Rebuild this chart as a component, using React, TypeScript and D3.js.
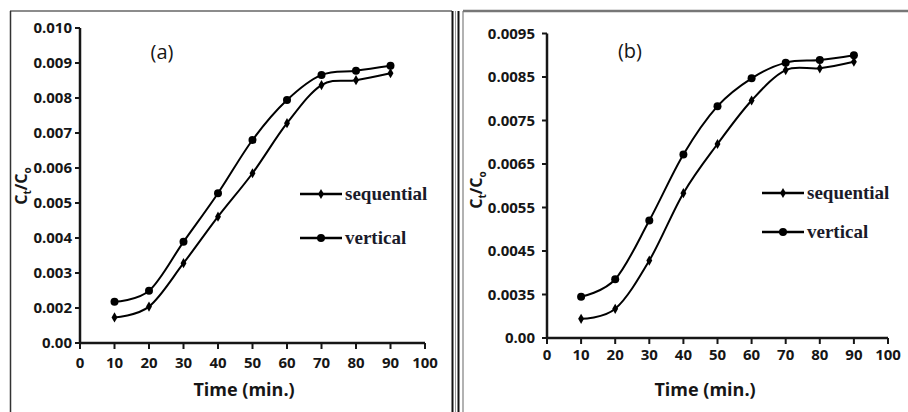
import * as d3 from 'd3';

// sampling times (min.)
const times = [10, 20, 30, 40, 50, 60, 70, 80, 90];
const xTicks = [0, 10, 20, 30, 40, 50, 60, 70, 80, 90, 100];

// panel (a)
const seqA = [0.00173, 0.00204, 0.00328, 0.00461, 0.00585, 0.00728, 0.00837, 0.00851, 0.00871];
const vertA = [0.00218, 0.00249, 0.00389, 0.00528, 0.0068, 0.00794, 0.00866, 0.00878, 0.00892];
const yTicksA = [0.001, 0.002, 0.003, 0.004, 0.005, 0.006, 0.007, 0.008, 0.009, 0.01];
const yLabelsA = ['0.00', '0.002', '0.003', '0.004', '0.005', '0.006', '0.007', '0.008', '0.009', '0.010'];

// panel (b)
const seqB = [0.00294, 0.00317, 0.00428, 0.00583, 0.00696, 0.00796, 0.00866, 0.0087, 0.00885];
const vertB = [0.00345, 0.00385, 0.0052, 0.00672, 0.00783, 0.00847, 0.00883, 0.00889, 0.009];
const yTicksB = [0.0025, 0.0035, 0.0045, 0.0055, 0.0065, 0.0075, 0.0085, 0.0095];
const yLabelsB = ['0.00', '0.0035', '0.0045', '0.0055', '0.0065', '0.0075', '0.0085', '0.0095'];

const seriesNames = ['sequential', 'vertical'];

const tickFont = "'Open Sans', sans-serif";
const ink = '#161616';

type PanelProps = {
  left: number;
  right: number;
  bottom: number;
  top: number;
  yTicks: number[];
  yLabels: string[];
  seq: number[];
  vert: number[];
  tag: string;
  tagX: number;
  tagY: number;
  legendX: number;
  legendYs: number[];
  xLabelDy: number;
  titleX: number;
  titleY: number;
  yTitleX: number;
  yTitleY: number;
  labelGap: number;
};

function Panel(p: PanelProps) {
  const x = d3.scaleLinear().domain([0, 100]).range([p.left, p.right]);
  const y = d3
    .scaleLinear()
    .domain([p.yTicks[0], p.yTicks[p.yTicks.length - 1]])
    .range([p.bottom, p.top]);

  const line = d3
    .line<number>()
    .x((_, i) => x(times[i]))
    .y((d) => y(d))
    .curve(d3.curveCardinal.tension(0));

  const diamond = d3.symbol().type(d3.symbolDiamond).size(30)() ?? '';

  return (
    <g>
      {/* y axis */}
      <line x1={p.left} x2={p.left} y1={p.bottom} y2={p.top} stroke={ink} strokeWidth={2.5} />
      {p.yTicks.map((t, i) => (
        <g key={t}>
          <line x1={p.left - 5} x2={p.left} y1={y(t)} y2={y(t)} stroke={ink} strokeWidth={2} />
          <text
            x={p.left - p.labelGap}
            y={y(t)}
            dy="0.35em"
            textAnchor="end"
            fontFamily={tickFont}
            fontWeight="bold"
            fontSize={15}
            fill={ink}
          >
            {p.yLabels[i]}
          </text>
        </g>
      ))}

      {/* x axis */}
      <line x1={p.left} x2={p.right} y1={p.bottom} y2={p.bottom} stroke={ink} strokeWidth={2.5} />
      {xTicks.map((t) => (
        <g key={t}>
          <line x1={x(t)} x2={x(t)} y1={p.bottom} y2={p.bottom + 6} stroke={ink} strokeWidth={2} />
          <text
            x={x(t)}
            y={p.bottom + p.xLabelDy}
            textAnchor="middle"
            fontFamily={tickFont}
            fontWeight="bold"
            fontSize={15}
            fill={ink}
          >
            {t}
          </text>
        </g>
      ))}
      <text
        x={p.titleX}
        y={p.titleY}
        textAnchor="middle"
        fontFamily={tickFont}
        fontWeight="bold"
        fontSize={18}
        fill={ink}
      >
        Time (min.)
      </text>

      {/* y title C_t/C_o */}
      <text
        transform={`translate(${p.yTitleX},${p.yTitleY}) rotate(-90)`}
        textAnchor="middle"
        fontFamily={tickFont}
        fontWeight="bold"
        fontSize={16}
        fill={ink}
      >
        C<tspan fontSize={10} dy={4}>t</tspan>
        <tspan dy={-4}>/C</tspan>
        <tspan fontSize={10} dy={4}>o</tspan>
      </text>

      <text x={p.tagX} y={p.tagY} textAnchor="middle" fontFamily={tickFont} fontSize={20} fill={ink}>
        {p.tag}
      </text>

      {/* series */}
      <path d={line(p.seq) ?? ''} fill="none" stroke="#000" strokeWidth={2} />
      <path d={line(p.vert) ?? ''} fill="none" stroke="#000" strokeWidth={2} />
      {p.seq.map((v, i) => (
        <path key={`s${i}`} d={diamond} transform={`translate(${x(times[i])},${y(v)})`} fill="#000" />
      ))}
      {p.vert.map((v, i) => (
        <circle key={`v${i}`} cx={x(times[i])} cy={y(v)} r={4} fill="#000" />
      ))}

      {/* legend */}
      {seriesNames.map((name, i) => (
        <g key={name} transform={`translate(${p.legendX},${p.legendYs[i]})`}>
          <line x1={0} x2={42} y1={0} y2={0} stroke="#000" strokeWidth={2.5} />
          {i === 0 ? (
            <path d={diamond} transform="translate(21,0)" fill="#000" />
          ) : (
            <circle cx={21} cy={0} r={4} fill="#000" />
          )}
          <text
            x={45}
            y={0}
            dy="0.3em"
            fontFamily="'Liberation Serif', serif"
            fontWeight="bold"
            fontSize={19}
            fill="#1a1a2a"
          >
            {name}
          </text>
        </g>
      ))}
    </g>
  );
}

export default function App() {
  return (
    <svg
      width={908}
      height={412}
      style={{ position: 'absolute', left: 0, top: 0, background: '#fff' }}
    >
      <rect width={908} height={412} fill="#fff" />
      {/* frames */}
      <line x1={10} x2={452} y1={11} y2={11} stroke="#666" strokeWidth={1.5} />
      <line x1={10.5} x2={10.5} y1={11} y2={412} stroke="#333" strokeWidth={1.5} />
      <line x1={452.5} x2={452.5} y1={11} y2={412} stroke="#111" strokeWidth={2} />
      <line x1={455.5} x2={455.5} y1={11} y2={412} stroke="#999" strokeWidth={1} />
      <line x1={458.5} x2={458.5} y1={11} y2={412} stroke="#111" strokeWidth={2} />
      <line x1={463} x2={463} y1={11} y2={412} stroke="#999" strokeWidth={1.5} />
      <line x1={463} x2={908} y1={11} y2={11} stroke="#777" strokeWidth={2.5} />

      <Panel
        left={80}
        right={425}
        bottom={343}
        top={28}
        yTicks={yTicksA}
        yLabels={yLabelsA}
        seq={seqA}
        vert={vertA}
        tag="(a)"
        tagX={162}
        tagY={59}
        legendX={300}
        legendYs={[194, 238]}
        xLabelDy={25}
        titleX={244}
        titleY={396}
        yTitleX={27}
        yTitleY={186}
        labelGap={8}
      />
      <Panel
        left={547}
        right={888}
        bottom={338}
        top={33.5}
        yTicks={yTicksB}
        yLabels={yLabelsB}
        seq={seqB}
        vert={vertB}
        tag="(b)"
        tagX={630}
        tagY={58}
        legendX={762}
        legendYs={[193, 232]}
        xLabelDy={22}
        titleX={705}
        titleY={396}
        yTitleX={482}
        yTitleY={190}
        labelGap={12}
      />
    </svg>
  );
}
